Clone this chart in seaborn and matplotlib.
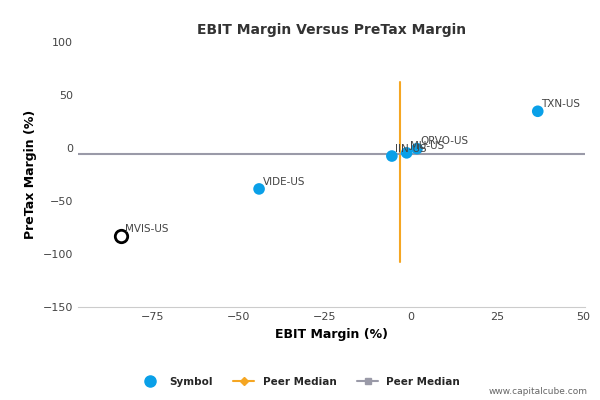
import matplotlib
matplotlib.use("Agg")
import matplotlib.pyplot as plt
import seaborn as sns
import pandas as pd
from matplotlib.lines import Line2D

symbols = ["TXN-US", "QRVO-US", "MU-US", "IIN-US", "VIDE-US", "MVIS-US"]
ebit = [36.8, 1.8, -1.2, -5.5, -44.0, -84.0]
pretax = [34.7, -0.5, -4.5, -7.5, -38.5, -83.0]
peer_x, peer_y = -3.2, -6.0

df = pd.DataFrame({"Symbol": symbols, "EBIT": ebit, "PreTax": pretax})
blue = "#0aa0e8"

fig, ax = plt.subplots(figsize=(6, 4), dpi=100)
sns.set_style("white")
main = df[df.Symbol != "MVIS-US"]
sns.scatterplot(data=main, x="EBIT", y="PreTax", color=blue, s=70, edgecolor="none", ax=ax, zorder=3)
hl = df[df.Symbol == "MVIS-US"]
ax.scatter(hl.EBIT, hl.PreTax, s=80, facecolor="white", edgecolor="black", linewidth=2, zorder=4)
for s, x, y in zip(df.Symbol, df.EBIT, df.PreTax):
    ax.text(x + 1, y + 4, s, fontsize=7.5, color="#444444", zorder=5)

ax.plot([peer_x, peer_x], [-107, 62], color="#f5a623", lw=1.5, zorder=2)
ax.plot([-96.5, 50.5], [peer_y, peer_y], color="#9a9aa8", lw=1.5, zorder=2)

ax.set_xlim(-96.5, 50.5)
ax.set_ylim(-150, 100)
ax.set_xticks([-75, -50, -25, 0, 25, 50])
ax.set_yticks([-150, -100, -50, 0, 50, 100])
ax.tick_params(labelsize=8, colors="#444444", length=0)
for sp in ["top", "right", "left"]:
    ax.spines[sp].set_visible(False)
ax.spines["bottom"].set_color("#cccccc")
ax.set_xlabel("EBIT Margin (%)", fontsize=9, fontweight="bold")
ax.set_ylabel("PreTax Margin (%)", fontsize=9, fontweight="bold")
ax.set_title("EBIT Margin Versus PreTax Margin", fontsize=10, fontweight="bold", color="#333333")

handles = [
    Line2D([], [], marker="o", color=blue, ls="", markersize=8),
    Line2D([], [], marker="D", color="#f5a623", markersize=4, lw=1.5),
    Line2D([], [], marker="s", color="#9a9aa8", markersize=5, lw=1.5),
]
fig.legend(handles, ["Symbol", "Peer Median", "Peer Median"], loc="lower center",
           bbox_to_anchor=(0.5, 0.01), ncol=3, frameon=False,
           prop={"size": 7.5, "weight": "bold"})
fig.text(0.98, 0.015, "www.capitalcube.com", ha="right", fontsize=6.5, color="#666666")

fig.subplots_adjust(left=0.13, right=0.975, top=0.895, bottom=0.232)
fig.savefig("out.png")
